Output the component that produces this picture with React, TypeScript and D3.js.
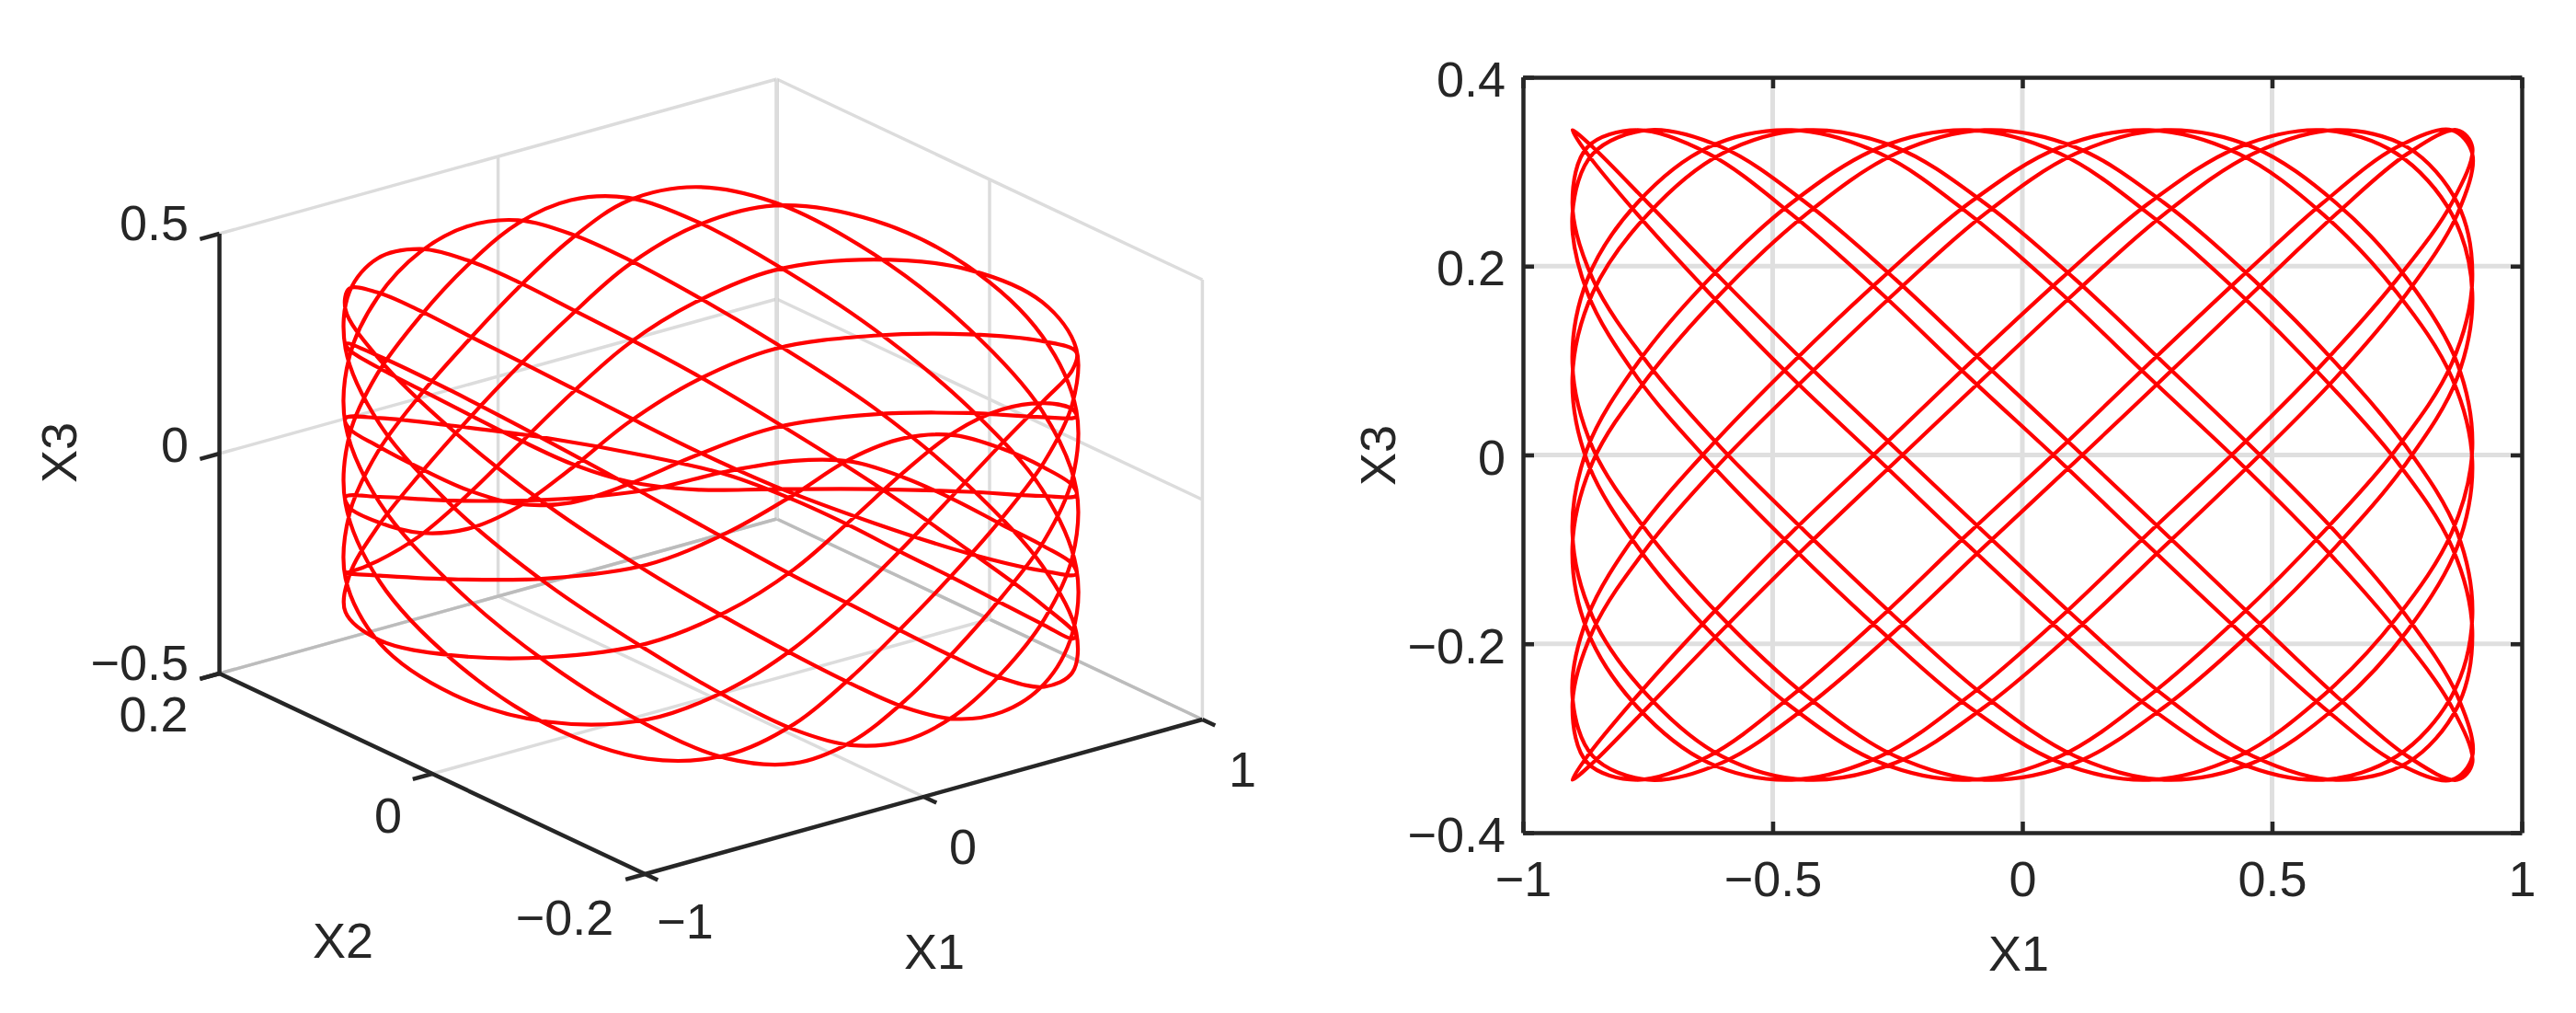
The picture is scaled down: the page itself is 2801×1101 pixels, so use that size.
import { useRef, useEffect } from "react";
import * as d3 from "d3";

// trajectory, one sample per lattice step of the curve
const x1Values: number[] = [
    -.901,-.860,-.750,-.602,-.433,-.254,-.076,.106,.284,.462,.628,.771,.871,.901,.860,.750,.602,.433,.254,.076,-.106,-.284,-.462,-.628,-.771,-.871,
    -.901,-.860,-.750,-.602,-.433,-.254,-.076,.106,.284,.462,.628,.771,.871,.901,.860,.750,.602,.433,.254,.076,-.106,-.284,-.462,-.628,-.771,-.871,
    -.901,-.860,-.750,-.602,-.433,-.254,-.076,.106,.284,.462,.628,.771,.871,.901,.860,.750,.602,.433,.254,.076,-.106,-.284,-.462,-.628,-.771,-.871,
    -.901,-.860,-.750,-.602,-.433,-.254,-.076,.106,.284,.462,.628,.771,.871,.901,.860,.750,.602,.433,.254,.076,-.106,-.284,-.462,-.628,-.771,-.871,
    -.901,-.860,-.750,-.602,-.433,-.254,-.076,.106,.284,.462,.628,.771,.871,.901,.860,.750,.602,.433,.254,.076,-.106,-.284,-.462,-.628,-.771,-.871,
    -.901,-.860,-.750,-.602,-.433,-.254,-.076,.106,.284,.462,.628,.771,.871,.901,.860,.750,.602,.433,.254,.076,-.106,-.284,-.462,-.628,-.771,-.871,
    -.901,-.860,-.750,-.602,-.433,-.254,-.076,.106,.284,.462,.628,.771,.871,.901,.860,.750,.602,.433,.254,.076,-.106,-.284,-.462,-.628,-.771,-.871,
    -.901,-.860,-.750,-.602,-.433,-.254,-.076,.106,.284,.462,.628,.771,.871,.901,.860,.750,.602,.433,.254,.076,-.106,-.284,-.462,-.628,-.771,-.871,
    -.901,-.860,-.750,-.602,-.433,-.254,-.076,.106,.284,.462,.628,.771,.871,.901,.860,.750,.602,.433,.254,.076,-.106,-.284,-.462,-.628,-.771,-.871,
    -.901,-.860,-.750,-.602,-.433,-.254,-.076,.106,.284,.462,.628,.771,.871,.901,.860,.750,.602,.433,.254,.076,-.106,-.284,-.462,-.628,-.771,-.871,
];

const x2Values: number[] = [
    .006,.086,.147,.182,.200,.207,.209,.209,.206,.199,.179,.142,.075,-.006,-.086,-.147,-.182,-.200,-.207,-.209,-.209,-.206,-.199,-.179,-.142,-.075,
    .006,.086,.147,.182,.200,.207,.209,.209,.206,.199,.179,.142,.075,-.006,-.086,-.147,-.182,-.200,-.207,-.209,-.209,-.206,-.199,-.179,-.142,-.075,
    .006,.086,.147,.182,.200,.207,.209,.209,.206,.199,.179,.142,.075,-.006,-.086,-.147,-.182,-.200,-.207,-.209,-.209,-.206,-.199,-.179,-.142,-.075,
    .006,.086,.147,.182,.200,.207,.209,.209,.206,.199,.179,.142,.075,-.006,-.086,-.147,-.182,-.200,-.207,-.209,-.209,-.206,-.199,-.179,-.142,-.075,
    .006,.086,.147,.182,.200,.207,.209,.209,.206,.199,.179,.142,.075,-.006,-.086,-.147,-.182,-.200,-.207,-.209,-.209,-.206,-.199,-.179,-.142,-.075,
    .006,.086,.147,.182,.200,.207,.209,.209,.206,.199,.179,.142,.075,-.006,-.086,-.147,-.182,-.200,-.207,-.209,-.209,-.206,-.199,-.179,-.142,-.075,
    .006,.086,.147,.182,.200,.207,.209,.209,.206,.199,.179,.142,.075,-.006,-.086,-.147,-.182,-.200,-.207,-.209,-.209,-.206,-.199,-.179,-.142,-.075,
    .006,.086,.147,.182,.200,.207,.209,.209,.206,.199,.179,.142,.075,-.006,-.086,-.147,-.182,-.200,-.207,-.209,-.209,-.206,-.199,-.179,-.142,-.075,
    .006,.086,.147,.182,.200,.207,.209,.209,.206,.199,.179,.142,.075,-.006,-.086,-.147,-.182,-.200,-.207,-.209,-.209,-.206,-.199,-.179,-.142,-.075,
    .006,.086,.147,.182,.200,.207,.209,.209,.206,.199,.179,.142,.075,-.006,-.086,-.147,-.182,-.200,-.207,-.209,-.209,-.206,-.199,-.179,-.142,-.075,
];

const x3Values: number[] = [
    .344,.326,.267,.186,.097,.007,-.082,-.172,-.255,-.319,-.344,-.326,-.267,-.186,-.097,-.007,.082,.172,.255,.319,
    .344,.326,.267,.186,.097,.007,-.082,-.172,-.255,-.319,-.344,-.326,-.267,-.186,-.097,-.007,.082,.172,.255,.319,
    .344,.326,.267,.186,.097,.007,-.082,-.172,-.255,-.319,-.344,-.326,-.267,-.186,-.097,-.007,.082,.172,.255,.319,
    .344,.326,.267,.186,.097,.007,-.082,-.172,-.255,-.319,-.344,-.326,-.267,-.186,-.097,-.007,.082,.172,.255,.319,
    .344,.326,.267,.186,.097,.007,-.082,-.172,-.255,-.319,-.344,-.326,-.267,-.186,-.097,-.007,.082,.172,.255,.319,
    .344,.326,.267,.186,.097,.007,-.082,-.172,-.255,-.319,-.344,-.326,-.267,-.186,-.097,-.007,.082,.172,.255,.319,
    .344,.326,.267,.186,.097,.007,-.082,-.172,-.255,-.319,-.344,-.326,-.267,-.186,-.097,-.007,.082,.172,.255,.319,
    .344,.326,.267,.186,.097,.007,-.082,-.172,-.255,-.319,-.344,-.326,-.267,-.186,-.097,-.007,.082,.172,.255,.319,
    .344,.326,.267,.186,.097,.007,-.082,-.172,-.255,-.319,-.344,-.326,-.267,-.186,-.097,-.007,.082,.172,.255,.319,
    .344,.326,.267,.186,.097,.007,-.082,-.172,-.255,-.319,-.344,-.326,-.267,-.186,-.097,-.007,.082,.172,.255,.319,
    .344,.326,.267,.186,.097,.007,-.082,-.172,-.255,-.319,-.344,-.326,-.267,-.186,-.097,-.007,.082,.172,.255,.319,
    .344,.326,.267,.186,.097,.007,-.082,-.172,-.255,-.319,-.344,-.326,-.267,-.186,-.097,-.007,.082,.172,.255,.319,
    .344,.326,.267,.186,.097,.007,-.082,-.172,-.255,-.319,-.344,-.326,-.267,-.186,-.097,-.007,.082,.172,.255,.319,
];

const flatX1Ticks = [-1, -0.5, 0, 0.5, 1];
const flatX3Ticks = [-0.4, -0.2, 0, 0.2, 0.4];
const boxX1Ticks = [-1, 0, 1];
const boxX2Ticks = [-0.2, 0, 0.2];
const boxX3Ticks = [-0.5, 0, 0.5];

const FONT = "'Liberation Sans', Arial, sans-serif";
const INK = "#262626";
const RED = "#ff0000";
const FONT_SIZE = 54;

const tickText = (v: number): string =>
    v < 0 ? `\u2212${Math.abs(v)}` : String(v);

const App: React.FC = () => {
    const svgRef = useRef<SVGSVGElement | null>(null);

    useEffect(() => {
        if (!svgRef.current) return;
        const svg = d3.select(svgRef.current);
        svg.selectAll("*").remove();

        const points = x1Values.map((v, i) => ({
            x1: v,
            x2: x2Values[i],
            x3: x3Values[i],
        }));
        type P = (typeof points)[number];

        const label = (
            x: number,
            y: number,
            t: string,
            rotate = false,
        ) =>
            svg
                .append("text")
                .attr("transform", `translate(${x},${y})${rotate ? " rotate(-90)" : ""}`)
                .attr("text-anchor", "middle")
                .attr("dy", "0.36em")
                .attr("font-family", FONT)
                .attr("font-size", FONT_SIZE)
                .attr("fill", INK)
                .text(t);

        // ---- left panel, oblique view of the box ----
        const cx = 773;
        const cy = 518;
        const x1Sx = d3.scaleLinear().domain([-1, 1]).range([-303, 303]);
        const x1Sy = d3.scaleLinear().domain([-1, 1]).range([84, -84]);
        const x2Sx = d3.scaleLinear().domain([-0.2, 0.2]).range([231.4, -231.4]);
        const x2Sy = d3.scaleLinear().domain([-0.2, 0.2]).range([109, -109]);
        const x3Sy = d3.scaleLinear().domain([-0.5, 0.5]).range([239, -239]);

        const px = (a: number, b: number) => cx + x1Sx(a) + x2Sx(b);
        const py = (a: number, b: number, c: number) =>
            cy + x1Sy(a) + x2Sy(b) + x3Sy(c);

        const box = svg.append("g").attr("fill", "none");
        const seg = (
            a: [number, number, number],
            b: [number, number, number],
            color: string,
            w: number,
        ) =>
            box
                .append("line")
                .attr("x1", px(a[0], a[1]))
                .attr("y1", py(a[0], a[1], a[2]))
                .attr("x2", px(b[0], b[1]))
                .attr("y2", py(b[0], b[1], b[2]))
                .attr("stroke", color)
                .attr("stroke-width", w);

        const GRID = "#dcdcdc";
        boxX3Ticks.forEach((z) => {
            seg([-1, 0.2, z], [1, 0.2, z], GRID, 3.5);
            seg([1, 0.2, z], [1, -0.2, z], GRID, 3.5);
        });
        boxX1Ticks.forEach((a) => {
            seg([a, 0.2, -0.5], [a, 0.2, 0.5], a === 1 ? "#bcbcbc" : GRID, a === 1 ? 4 : 3.5);
            seg([a, 0.2, -0.5], [a, -0.2, -0.5], a === 1 ? "#bcbcbc" : GRID, 3.5);
        });
        boxX2Ticks.forEach((b) => {
            seg([1, b, -0.5], [1, b, 0.5], GRID, 3.5);
            seg([-1, b, -0.5], [1, b, -0.5], b === 0.2 ? "#bcbcbc" : GRID, 3.5);
        });

        const line3d = d3
            .line<P>()
            .x((d) => px(d.x1, d.x2))
            .y((d) => py(d.x1, d.x2, d.x3))
            .curve(d3.curveCatmullRomClosed.alpha(0.5));

        svg.append("path")
            .attr("d", line3d(points))
            .attr("fill", "none")
            .attr("stroke", RED)
            .attr("stroke-width", 4.2);

        const axes3d = svg.append("g").attr("stroke-linecap", "butt");
        const dark = (a: [number, number, number], b: [number, number, number]) =>
            axes3d
                .append("line")
                .attr("x1", px(a[0], a[1]))
                .attr("y1", py(a[0], a[1], a[2]))
                .attr("x2", px(b[0], b[1]))
                .attr("y2", py(b[0], b[1], b[2]))
                .attr("stroke", INK)
                .attr("stroke-width", 4.5);

        dark([-1, 0.2, -0.5], [-1, 0.2, 0.5]);
        dark([-1, 0.2, -0.5], [-1, -0.2, -0.5]);
        dark([-1, -0.2, -0.5], [1, -0.2, -0.5]);
        boxX3Ticks.forEach((z) => dark([-1, 0.2, z], [-1.07, 0.2, z]));
        boxX2Ticks.forEach((b) => dark([-1, b, -0.5], [-1.07, b, -0.5]));
        boxX1Ticks.forEach((a) => dark([a, -0.2, -0.5], [a, -0.212, -0.5]));

        const endAnchor = (y: number, t: string) =>
            svg
                .append("text")
                .attr("x", 205)
                .attr("y", y)
                .attr("dy", "0.36em")
                .attr("text-anchor", "end")
                .attr("font-family", FONT)
                .attr("font-size", FONT_SIZE)
                .attr("fill", INK)
                .text(t);
        endAnchor(242, tickText(0.5));
        endAnchor(483, tickText(0));
        endAnchor(720, tickText(-0.5));

        label(167, 776, tickText(0.2));
        label(422, 886, tickText(0));
        label(614, 997, tickText(-0.2));
        label(745, 1001, tickText(-1));
        label(1047, 920, tickText(0));
        label(1351, 836, tickText(1));
        label(373, 1022, "X2");
        label(1016, 1034, "X1");
        label(64, 492, "X3", true);

        // ---- right panel, X1 against X3 ----
        const x = d3.scaleLinear().domain([-1, 1]).range([1656, 2742]);
        const y = d3.scaleLinear().domain([-0.4, 0.4]).range([905, 84]);

        const grid = svg
            .append("g")
            .attr("stroke", "#dfdfdf")
            .attr("stroke-width", 5);
        grid.selectAll("line.v")
            .data(flatX1Ticks.slice(1, -1))
            .join("line")
            .attr("class", "v")
            .attr("x1", (d) => x(d))
            .attr("x2", (d) => x(d))
            .attr("y1", y(-0.4))
            .attr("y2", y(0.4));
        grid.selectAll("line.h")
            .data(flatX3Ticks.slice(1, -1))
            .join("line")
            .attr("class", "h")
            .attr("x1", x(-1))
            .attr("x2", x(1))
            .attr("y1", (d) => y(d))
            .attr("y2", (d) => y(d));

        const line2d = d3
            .line<P>()
            .x((d) => x(d.x1))
            .y((d) => y(d.x3))
            .curve(d3.curveCatmullRomClosed.alpha(0.5));

        svg.append("path")
            .attr("d", line2d(points))
            .attr("fill", "none")
            .attr("stroke", RED)
            .attr("stroke-width", 4.2);

        const styleAxis = (g: d3.Selection<SVGGElement, unknown, null, undefined>) => {
            g.attr("font-family", FONT).attr("font-size", FONT_SIZE);
            g.selectAll("path,line").attr("stroke", INK).attr("stroke-width", 4.5);
            g.selectAll("text").attr("fill", INK);
        };

        svg.append("g")
            .attr("transform", `translate(0,${y(-0.4)})`)
            .call(
                d3.axisBottom(x).tickValues(flatX1Ticks).tickFormat((d) => tickText(+d))
                    .tickSizeInner(-12).tickSizeOuter(0).tickPadding(31),
            )
            .call(styleAxis);
        svg.append("g")
            .attr("transform", `translate(0,${y(0.4)})`)
            .call(
                d3.axisTop(x).tickValues(flatX1Ticks).tickFormat(() => "")
                    .tickSizeInner(-12).tickSizeOuter(0),
            )
            .call(styleAxis);
        svg.append("g")
            .attr("transform", `translate(${x(-1)},0)`)
            .call(
                d3.axisLeft(y).tickValues(flatX3Ticks).tickFormat((d) => tickText(+d))
                    .tickSizeInner(-12).tickSizeOuter(0).tickPadding(19),
            )
            .call(styleAxis)
            .selectAll("text")
            .attr("dy", "0.38em");
        svg.append("g")
            .attr("transform", `translate(${x(1)},0)`)
            .call(
                d3.axisRight(y).tickValues(flatX3Ticks).tickFormat(() => "")
                    .tickSizeInner(-12).tickSizeOuter(0),
            )
            .call(styleAxis);

        label(2195, 1036, "X1");
        label(1498, 495, "X3", true);
    }, []);

    return (
        <svg
            ref={svgRef}
            width={2801}
            height={1101}
            style={{ position: "absolute", left: 0, top: 0, background: "#fff" }}
        />
    );
};

export default App;
